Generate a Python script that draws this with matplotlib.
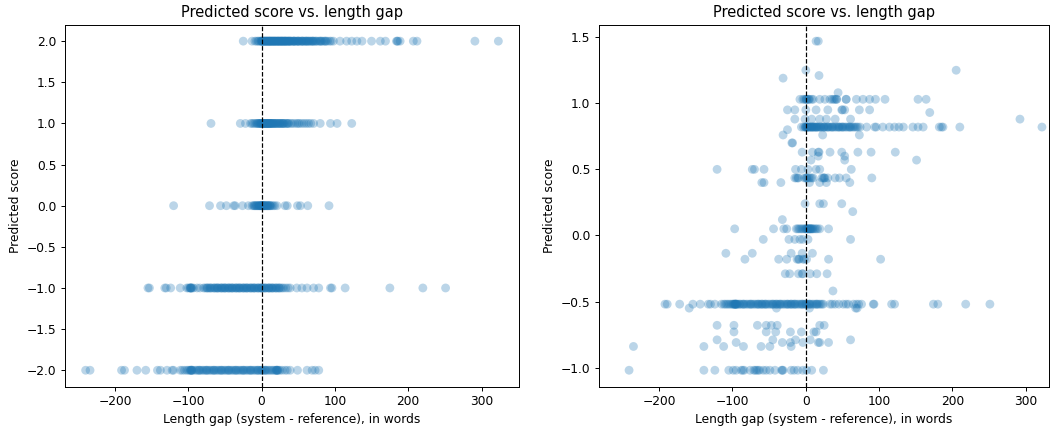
import numpy as np
import matplotlib
matplotlib.use("Agg")
import matplotlib.pyplot as plt

# ---- left panel: discrete predicted score levels, x = length gap per point
levels_left = [2.0, 1.0, 0.0, -1.0, -2.0]
gap_score_2 = [-25, -13, -9, -7, -5, -4, -2, -1, 0, 1, 2, 3, 4, 5, 6, 7, 8, 9, 10, 11, 12, 13, 14,
               15, 16, 17, 18, 19, 20, 21, 22, 23, 24, 25, 26, 27, 28, 29, 30, 31, 32, 33, 34, 35,
               36, 37, 38, 39, 40, 42, 43, 44, 45, 47, 48, 50, 51, 52, 54, 55, 57, 58, 60, 61, 63,
               64, 66, 68, 70, 71, 73, 75, 77, 79, 80, 82, 84, 86, 88, 90, 93, 95, 98,
               0, 2, 5, 8, 10, 12, 15, 18, 20, 23, 25, 28, 30, 33, 36, 40, 45, 50, 55, 60, 65, 70,
               1, 4, 7, 11, 14, 17, 22, 27, 32, 38, 44, 49, 56, 62, 68, 74, 81, 87,
               107, 116, 123, 130, 137, 150, 162, 169, 184, 185, 186, 189, 207, 212, 291, 323]
gap_score_1 = [-69, -29, -22, -15, -13, -11, -9, -7, -5, -4, -3, -2, -1, 0, 1, 2, 3, 4, 5, 6, 7,
               8, 9, 10, 11, 12, 13, 14, 15, 16, 18, 19, 20, 22, 24, 25, 27, 29, 30, 32, 34, 35,
               37, 40, 42, 45, 48, 50, 52, 55, 58, 61, 64, 67, 71,
               0, 2, 4, 6, 8, 10, 12, 15, 20, 25, 30, -6, -1, 3, 7, 11, 17, 23, 28, 36,
               80, 94, 103, 123]
gap_score_0 = [-120, -71, -56, -48, -38, -36, -26, -18, -13, -11, -10, -8, -7, -6, -5, -4, -3, -2,
               -1, 0, 0, 1, 1, 2, 2, 3, 3, 4, 5, 6, 7, 8, 9, 10, 11, 12, 14, 16, 18, 21,
               -9, -3, 0, 4, 8, 12,
               32, 35, 49, 53, 63, 92]
gap_score_m1 = [-155, -153, -132, -130, -124, -111, -102, -100, -98, -97, -96, -95, -93, -88, -84,
                -79, -77, -75, -73, -71, -69, -67, -65, -63, -61, -60, -58, -56, -55, -53, -51,
                -50, -48, -46, -45, -43, -41, -40, -38, -36, -35, -33, -31, -30, -28, -26, -25,
                -23, -21, -20, -18, -16, -15, -13, -11, -10, -8, -6, -5, -3, -1, 0, 1, 3, 5, 6,
                8, 10, 11, 13, 15, 16, 18, 20, 22, 24, 26, 28, 30, 33, 36, 39,
                -70, -60, -50, -40, -30, -20, -10, 0, 10, 20,
                -97, -96, -74, -64, -54, -44, -34, -24, -14, -4, 4, 14, 24,
                48, 55, 62, 71, 78, 94, 96, 114, 175, 220, 251]
gap_score_m2 = [-240, -234, -191, -187, -170, -158, -142, -138, -129, -122, -120, -111,
                -108, -105, -102, -100, -98, -97, -96, -95, -93, -90, -88, -86, -84, -82, -80,
                -78, -76, -74, -72, -70, -68, -66, -64, -62, -60, -58, -56, -54, -52, -50, -48,
                -46, -44, -42, -40, -38, -36, -34, -32, -30, -28, -26, -24, -22, -20, -18, -16,
                -14, -12, -10, -8, -6, -4, -2, 0, 2, 4, 6, 8, 10, 12, 14, 16, 18, 20, 21, 22,
                23, 25, 28, 32, 35, 39,
                -95, -75, -55, -35, -15, 0, 20,
                -96, -85, -65, -45, -25, -5, 5, 21,
                49, 62, 69, 73, 78]
gaps_left = [gap_score_2, gap_score_1, gap_score_0, gap_score_m1, gap_score_m2]

# ---- right panel: continuous predicted score, grouped by score value
levels_right = [1.47, 1.25, 1.21, 1.19, 1.08, 1.03, 0.95, 0.93, 0.88, 0.82, 0.80, 0.76, 0.70,
                0.63, 0.60, 0.57, 0.50, 0.435, 0.40, 0.24, 0.18, 0.12, 0.05, -0.03, -0.135,
                -0.18, -0.29, -0.42, -0.52, -0.55, -0.68, -0.73, -0.79, -0.81, -0.84, -1.02]
gaps_right = [
    [14, 17],
    [0, 205],
    [18],
    [-31],
    [44],
    [-8, -4, -2, 0, 1, 3, 5, 8, 10, 19, 26, 33, 36, 40, 42, 55, 69, 78, 87, 95, 108, 153, 164,
     1, 4, 38, 42, 55],
    [-25, -15, 0, 14, 30, 49, 50, 53, 73, 87],
    [169],
    [-15, -1, 8, 19, 28, 40, 61, 292],
    [-6, -3, -1, 0, 1, 2, 3, 5, 6, 8, 9, 11, 12, 14, 15, 17, 18, 20, 22, 24, 25, 27, 29, 31, 33,
     35, 37, 39, 41, 43, 45, 47, 49, 51, 53, 55, 57, 59, 61, 63, 65, 67, 69, 71, 74,
     0, 3, 6, 10, 15, 20, 30, 45, 60, 2, 8, 13, 25, 36, 50,
     83, 94, 96, 105, 114, 121, 127, 133, 146, 153, 160, 182, 185, 187, 210, 322],
    [-25],
    [-31, 23, 73],
    [-19, -18],
    [-5, 9, 17, 18, 33, 49, 71, 89, 122],
    [17, 53],
    [7, 53, 151],
    [-121, -73, -70, -57, -14, -6, 3, 14, 19, 62],
    [-15, -13, -11, -10, -2, 0, 1, 2, 4, 6, 8, 10, 22, 24, 25, 26, 30, 40, 46, 55, 90],
    [-60, -57, -34, 5, 19, 28, 60],
    [-1, 19, 24, 49],
    [64],
    [-32],
    [-97, -44, -30, -26, -13, -11, -9, -7, -5, -3, -1, 0, 1, 2, 3, 4, 5, 6, 7, 8, 9, 10, 12, 14,
     16, 19, 31, 2, 6],
    [-58, -23, -15, -8, -4, 3, 61],
    [-109, -73, -20, -5, 9],
    [-83, -37, -26, -12, -10, -9, -4, -2, 1, 31, 102],
    [-28, -22, -10, -5, -4, 6, 15, 29],
    [37],
    [-192, -189, -172, -154, -144, -133, -130, -124, -115, -112, -110, -108, -106, -104, -102,
     -100, -99, -98, -97, -96, -95, -94, -93, -91, -90, -88, -86, -84, -82, -80, -78, -76, -74,
     -72, -70, -68, -66, -64, -62, -60, -58, -56, -54, -52, -50, -48, -46, -44, -42, -40, -38,
     -36, -34, -32, -30, -28, -26, -24, -22, -20, -18, -16, -14, -12, -10, -8, -6, -4, -2, 0, 2,
     4, 6, 8, 10, 12, 14, 16, 18, 20, 22, 24, -97, -95, -60, -40, -20, 0,
     -96, -85, -75, -65, -55, -45, -35, -25, -15, -5, 5, 15,
     33, 36, 40, 45, 51, 55, 58, 65, 69, 72, 76, 92, 93, 117, 121, 174, 180, 218, 251],
    [-159, -40, 5, 68, 70],
    [-121, -98, -66, -54, -47, -39, 19, 25],
    [-98, -54, -41, -21, -6, 11, 14],
    [-121, -45, -14, 6, 61],
    [-95, -32, -21, -4, 17, 19, 31],
    [-235, -139, -112, -85, -61, -49, -20],
    [-241, -139, -124, -105, -99, -95, -88, -86, -84, -76, -71, -69, -67, -65, -63, -58, -54,
     -49, -42, -33, -32, -31, -20, -16, -11, -4, 1, 8, 24],
]


def stack(levels, gaps):
    xs, ys = [], []
    for lv, g in zip(levels, gaps):
        xs.extend(g)
        ys.extend([lv] * len(g))
    return np.array(xs, float), np.array(ys, float)


W, H, DPI = 1055, 427, 88
fig = plt.figure(figsize=(W / DPI, H / DPI), dpi=DPI)
ax1 = fig.add_axes([65 / W, 1 - 386.7 / H, 454 / W, 362 / H])
ax2 = fig.add_axes([599 / W, 1 - 386.7 / H, 450.3 / W, 362 / H])

for ax, (x, y) in [(ax1, stack(levels_left, gaps_left)), (ax2, stack(levels_right, gaps_right))]:
    ax.scatter(x, y, s=52, color="#1f77b4", alpha=0.3, edgecolors="none")
    ax.axvline(0, color="black", linestyle="--", linewidth=1)
    ax.set_title("Predicted score vs. length gap", fontsize=12)
    ax.set_xlabel("Length gap (system - reference), in words")
    ax.set_ylabel("Predicted score")

ax2.set_xlim(-282, 332)

fig.savefig("out.png", dpi=DPI)
